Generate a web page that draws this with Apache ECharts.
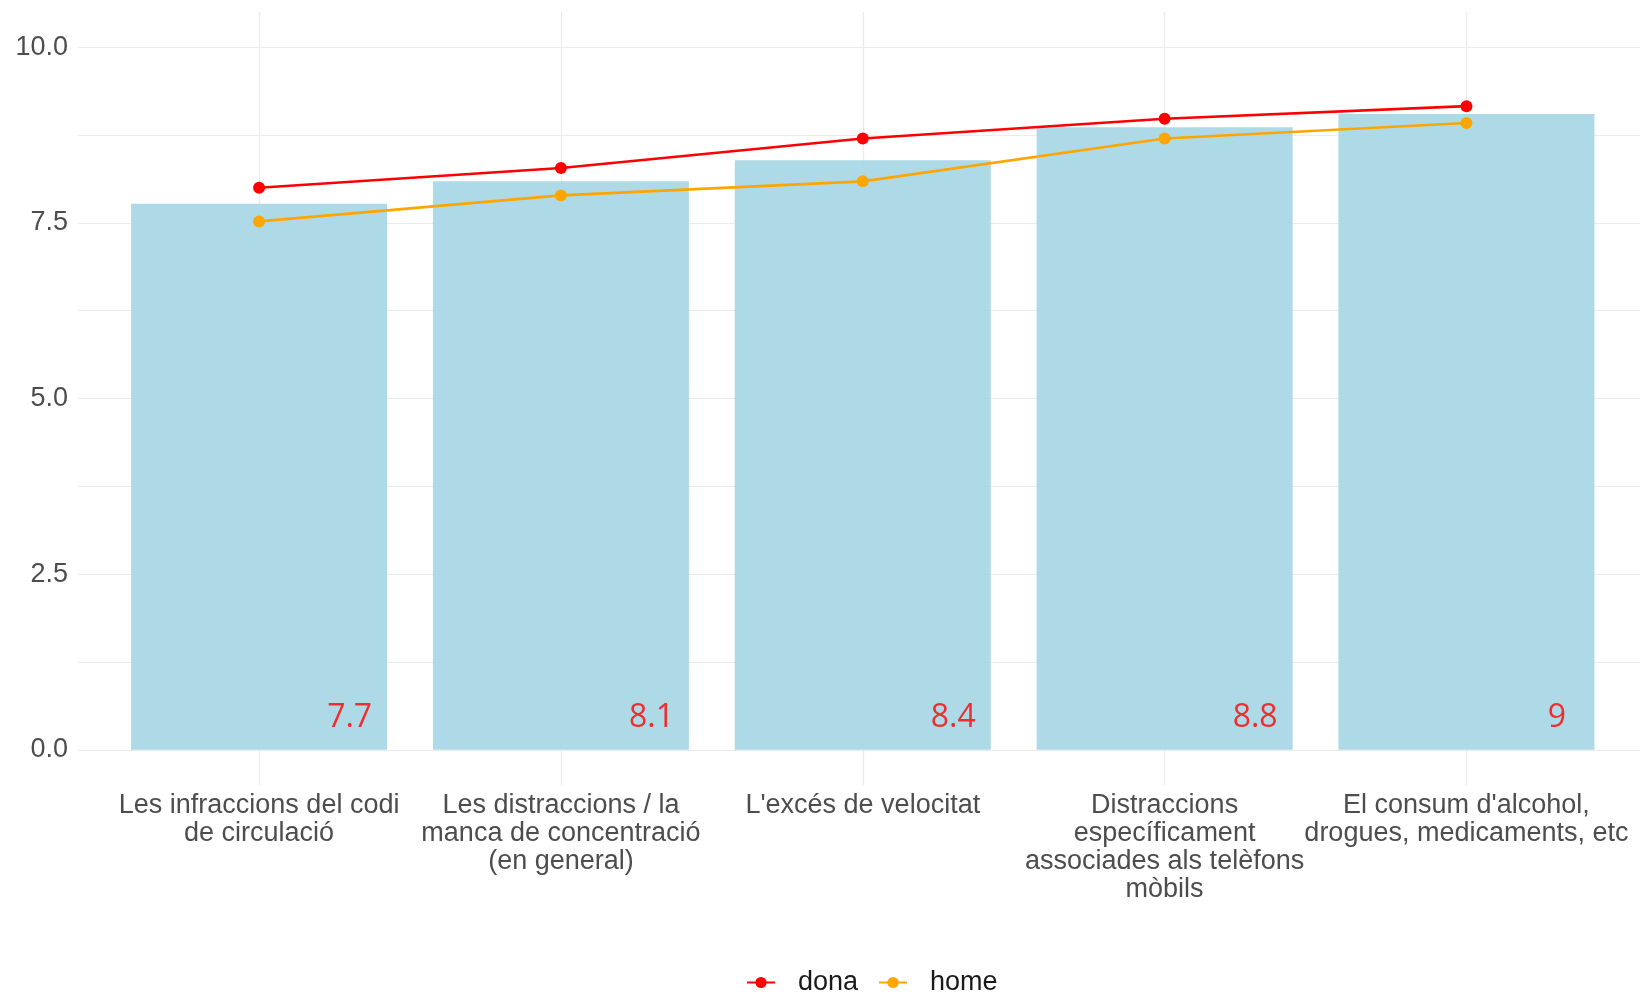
<!DOCTYPE html>
<html>
<head>
<meta charset="utf-8">
<script src="https://cdn.jsdelivr.net/npm/echarts@6/dist/echarts.min.js"></script>
<style>
  html, body { margin: 0; padding: 0; background: #fff; }
  #chart { width: 1640px; height: 992px; }
</style>
</head>
<body>
<div id="chart"></div>
<script>
// Data
const categories = [
    "Les infraccions del codi\nde circulació",
    "Les distraccions / la\nmanca de concentració\n(en general)",
    "L'excés de velocitat",
    "Distraccions\nespecíficament\nassociades als telèfons\nmòbils",
    "El consum d'alcohol,\ndrogues, medicaments, etc"
];
const barValues = [7.77, 8.09, 8.39, 8.86, 9.05];
const barLabels = ["7.7", "8.1", "8.4", "8.8", "9"];
const donaValues = [8.0, 8.28, 8.70, 8.98, 9.16];
const homeValues = [7.52, 7.89, 8.09, 8.70, 8.92];
const yLabelTicks = [0, 2.5, 5, 7.5, 10];
const yGridTicks = [0, 1.25, 2.5, 3.75, 5, 6.25, 7.5, 8.75, 10];

const catIdx = categories.map((c, i) => i);
const gridColor = '#EBEBEB';

const chart = echarts.init(document.getElementById('chart'));

chart.setOption({
    animation: false,
    backgroundColor: '#ffffff',
    textStyle: { fontFamily: 'Liberation Sans' },
    grid: { left: 78, right: 0, top: 12, bottom: 207 },
    xAxis: {
        type: 'value',
        min: -0.6,
        max: 4.575,
        axisLine: { show: false },
        axisTick: { show: false, customValues: catIdx },
        axisLabel: {
            customValues: catIdx,
            formatter: v => categories[v],
            color: '#4D4D4D',
            fontSize: 27,
            lineHeight: 28,
            margin: 7,
            align: 'center',
            verticalAlign: 'top'
        },
        splitLine: { show: true, lineStyle: { color: gridColor, width: 1.2 } }
    },
    yAxis: {
        type: 'value',
        min: -0.5,
        max: 10.5,
        axisLine: { show: false },
        axisTick: { show: false, customValues: yGridTicks },
        axisLabel: {
            customValues: yLabelTicks,
            formatter: v => v.toFixed(1),
            color: '#4D4D4D',
            fontSize: 27,
            margin: 10,
            padding: [5, 0, 0, 0]
        },
        splitLine: { show: true, lineStyle: { color: gridColor, width: 1.2 } }
    },
    legend: {
        data: ['dona', 'home'],
        left: 741,
        top: 964,
        itemWidth: 28,
        itemHeight: 14,
        itemGap: 20,
        textStyle: { fontSize: 27, color: '#1A1A1A', padding: [0, 0, 0, 18] }
    },
    series: [
        {
            name: 'mitjana',
            type: 'bar',
            barWidth: 256,
            data: barValues.map((v, i) => [i, v]),
            itemStyle: { color: '#A9D8E7', opacity: 0.94 },
            z: 1
        },
        {
            name: 'etiquetes',
            type: 'scatter',
            symbolSize: 1,
            itemStyle: { color: 'rgba(0,0,0,0)' },
            data: barLabels.map((t, i) => [i + 0.3, 0.5]),
            label: {
                show: true,
                position: 'inside',
                offset: [0, 3],
                formatter: p => barLabels[p.dataIndex],
                color: '#FF0000',
                fontFamily: 'Open Sans',
                fontSize: 32
            },
            silent: true,
            z: 3
        },
        {
            name: 'dona',
            type: 'line',
            data: donaValues.map((v, i) => [i, v]),
            symbol: 'circle',
            symbolSize: 12,
            lineStyle: { color: '#FF0000', width: 2.6 },
            itemStyle: { color: '#FF0000' },
            z: 4
        },
        {
            name: 'home',
            type: 'line',
            data: homeValues.map((v, i) => [i, v]),
            symbol: 'circle',
            symbolSize: 12,
            lineStyle: { color: '#FFA500', width: 2.6 },
            itemStyle: { color: '#FFA500' },
            z: 4
        }
    ]
});
</script>
</body>
</html>
